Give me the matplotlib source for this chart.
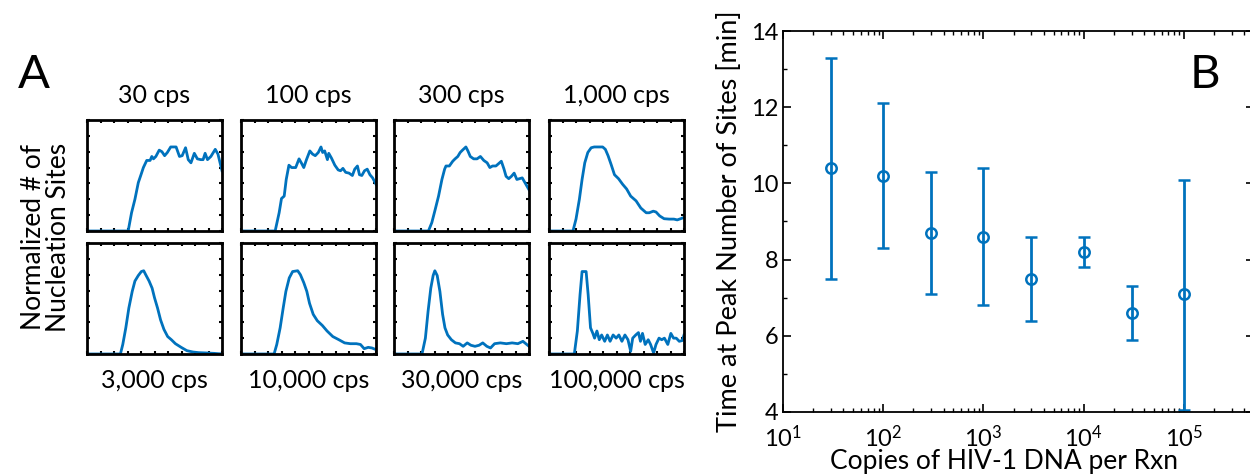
import numpy as np
import matplotlib
matplotlib.use("Agg")
import matplotlib.pyplot as plt
from matplotlib.ticker import MultipleLocator, LogLocator, NullFormatter

plt.rcParams['font.family'] = ['Lato', 'DejaVu Sans']
plt.rcParams['mathtext.fontset'] = 'custom'
plt.rcParams['mathtext.rm'] = 'Lato'

blue = '#0072BD'

# Panel A: normalized number of nucleation sites vs time (min)
titles_top = ['30 cps', '100 cps', '300 cps', '1,000 cps']
titles_bottom = ['3,000 cps', '10,000 cps', '30,000 cps', '100,000 cps']

t_30 = [0, 6.1, 6.6, 7.1, 7.6, 8.0, 8.35, 8.85, 9.35, 9.6, 9.85, 10.2, 10.7, 11.1, 11.5, 11.9, 12.4, 13.2,
        13.7, 14.1, 14.6, 15.0, 15.4, 15.9, 16.35, 16.85, 17.2, 17.5, 17.85, 18.35, 19.0, 19.4, 20.0]
v_30 = [0, 0, 0.23, 0.40, 0.61, 0.71, 0.80, 0.89, 0.89, 0.94, 0.91, 0.94, 1.02, 1.00, 0.95, 0.99, 1.06, 1.06,
        0.94, 0.95, 1.05, 0.90, 0.86, 0.98, 0.91, 0.90, 0.90, 0.98, 0.90, 0.94, 1.03, 0.97, 0.76]

t_100 = [0, 5.06, 5.65, 6.0, 6.4, 6.7, 7.1, 7.5, 8.1, 8.6, 9.0, 9.3, 9.7, 10.2, 10.6, 11.0, 11.45, 11.85, 12.1,
         12.4, 12.8, 13.0, 13.4, 13.9, 14.4, 14.75, 15.1, 15.5, 16.0, 16.5, 16.85, 17.25, 17.55, 17.9, 18.3,
         18.7, 19.1, 19.5, 20.0]
v_100 = [0, 0, 0.23, 0.41, 0.44, 0.65, 0.83, 0.80, 0.80, 0.91, 0.85, 0.80, 0.90, 1.01, 0.97, 0.95, 0.99, 1.06,
         0.99, 1.01, 0.90, 0.98, 0.92, 0.83, 0.77, 0.76, 0.79, 0.74, 0.73, 0.70, 0.78, 0.82, 0.71, 0.70, 0.76,
         0.78, 0.71, 0.67, 0.59]

t_300 = [0, 5.1, 5.6, 6.1, 6.6, 7.1, 7.5, 7.7, 8.2, 8.7, 9.05, 9.45, 9.8, 10.15, 10.65, 10.95, 11.3, 11.8,
         12.3, 12.8, 13.3, 13.8, 14.2, 14.6, 15.1, 15.5, 15.9, 16.3, 16.6, 17.0, 17.4, 17.8, 18.2, 18.6, 19.0,
         19.4, 20.0]
v_300 = [0, 0, 0.105, 0.27, 0.44, 0.65, 0.78, 0.82, 0.82, 0.88, 0.91, 0.94, 0.99, 1.02, 1.06, 1.01, 0.94, 0.91,
         0.91, 0.94, 0.89, 0.86, 0.80, 0.82, 0.82, 0.85, 0.88, 0.78, 0.69, 0.66, 0.69, 0.73, 0.65, 0.66, 0.67,
         0.61, 0.52]

t_1000 = [0, 3.55, 4.0, 4.5, 4.9, 5.3, 5.75, 6.25, 6.7, 7.95, 8.35, 8.75, 9.2, 9.7, 10.3, 10.9, 11.5, 12.1,
          12.9, 13.6, 14.4, 14.85, 15.45, 15.85, 16.4, 17.05, 17.8, 18.5, 19.0, 19.5, 20.0]
v_1000 = [0, 0, 0.15, 0.40, 0.65, 0.86, 0.99, 1.05, 1.06, 1.06, 1.03, 0.95, 0.84, 0.71, 0.66, 0.59, 0.53, 0.44,
          0.38, 0.29, 0.23, 0.23, 0.25, 0.24, 0.19, 0.155, 0.15, 0.15, 0.14, 0.155, 0.17]

t_3000 = [0, 4.95, 5.3, 5.75, 6.2, 6.7, 7.1, 7.6, 8.05, 8.4, 8.7, 9.2, 9.65, 10.0, 10.45, 10.9, 11.4, 11.95,
          12.5, 13.1, 13.95, 14.8, 15.7, 16.55, 17.7, 18.85, 20.0]
v_3000 = [0, 0, 0.12, 0.33, 0.58, 0.79, 0.92, 0.99, 1.04, 1.05, 1.00, 0.92, 0.83, 0.71, 0.58, 0.43, 0.31, 0.22,
          0.18, 0.13, 0.084, 0.042, 0.025, 0.017, 0.013, 0.008, 0.0]

t_10000 = [0, 4.9, 5.3, 5.8, 6.25, 6.65, 7.15, 7.65, 8.4, 8.8, 9.3, 9.75, 10.15, 10.7, 11.3, 12.05, 12.75,
           13.6, 14.5, 15.35, 16.2, 17.1, 17.7, 18.25, 18.85, 19.4, 20.0]
v_10000 = [0, 0, 0.12, 0.33, 0.58, 0.79, 0.96, 1.04, 1.05, 1.00, 0.90, 0.79, 0.64, 0.50, 0.42, 0.36, 0.29,
           0.22, 0.18, 0.14, 0.13, 0.13, 0.12, 0.067, 0.084, 0.076, 0.055]

t_30000 = [0, 4.15, 4.65, 5.05, 5.45, 5.8, 6.05, 6.4, 6.8, 7.2, 7.55, 7.95, 8.5, 9.1, 9.7, 10.25, 10.85, 11.4,
           12.0, 12.6, 13.15, 13.75, 14.3, 14.9, 15.75, 16.65, 17.5, 18.35, 19.1, 20.0]
v_30000 = [0, 0, 0.20, 0.54, 0.83, 0.99, 1.05, 0.99, 0.79, 0.50, 0.33, 0.24, 0.18, 0.14, 0.13, 0.097, 0.14,
           0.11, 0.097, 0.11, 0.14, 0.097, 0.076, 0.13, 0.14, 0.13, 0.14, 0.13, 0.16, 0.097]

t_100000 = [0, 3.75, 4.2, 4.6, 4.9, 5.5, 5.8, 6.15, 6.5, 6.75, 7.1, 7.45, 7.8, 8.25, 8.65, 9.05, 9.5, 9.95,
            10.35, 10.8, 11.25, 11.7, 12.1, 12.4, 12.85, 13.25, 13.55, 13.85, 14.25, 14.7, 15.05, 15.5, 15.85,
            16.3, 16.7, 17.1, 17.6, 18.05, 18.45, 18.85, 19.3, 19.75, 20.0]
v_100000 = [0, 0, 0.29, 0.75, 1.04, 1.04, 0.75, 0.33, 0.26, 0.20, 0.29, 0.18, 0.24, 0.16, 0.24, 0.16, 0.24,
            0.20, 0.24, 0.16, 0.24, 0.18, 0.034, 0.20, 0.24, 0.27, 0.16, 0.26, 0.12, 0.18, 0.12, 0.013, 0.12,
            0.20, 0.18, 0.20, 0.12, 0.26, 0.20, 0.20, 0.16, 0.17, 0.24]

curves = [(t_30, v_30), (t_100, v_100), (t_300, v_300), (t_1000, v_1000),
          (t_3000, v_3000), (t_10000, v_10000), (t_30000, v_30000), (t_100000, v_100000)]

# Panel B: time at peak number of sites vs copies
copies = [30, 100, 300, 1000, 3000, 10000, 30000, 100000]
peak_time = [10.4, 10.2, 8.7, 8.6, 7.5, 8.2, 6.6, 7.1]
err_high = [13.3, 12.1, 10.3, 10.4, 8.6, 8.6, 7.3, 10.1]
err_low = [7.5, 8.3, 7.1, 6.8, 6.4, 7.8, 5.9, 4.05]

W, H = 1250, 476
fig = plt.figure(figsize=(12.5, 4.76), dpi=100)

col_left = [87, 241, 394, 549]
row_top = [120, 243]
aw, ah = 135, 111

for i, (t, v) in enumerate(curves):
    r, c = divmod(i, 4)
    ax = fig.add_axes([col_left[c] / W, 1 - (row_top[r] + ah) / H, aw / W, ah / H])
    ax.plot(t, v, color=blue, lw=2.0)
    ax.set_xlim(0, 20)
    ax.set_ylim(0, 1.4)
    ax.xaxis.set_major_locator(MultipleLocator(2))
    ax.yaxis.set_major_locator(MultipleLocator(0.2))
    ax.tick_params(direction='in', length=2.5, width=1.5, top=True, right=True,
                   labelbottom=False, labelleft=False)
    for s in ax.spines.values():
        s.set_linewidth(2.0)
    if r == 0:
        ax.text(0.5, 1.22, titles_top[c], transform=ax.transAxes, ha='center', va='center', fontsize=18)
    else:
        ax.text(0.5, -0.24, titles_bottom[c], transform=ax.transAxes, ha='center', va='center', fontsize=18)

fig.text(18 / W, 1 - 75 / H, 'A', fontsize=34, va='center', ha='left')
fig.text(46 / W, 1 - 237 / H, 'Normalized # of\nNucleation Sites', rotation=90, fontsize=19,
         ha='center', va='center', linespacing=1.0)

axb = fig.add_axes([783 / W, 1 - 412 / H, 471 / W, 381 / H])
yerr = [np.array(peak_time) - np.array(err_low), np.array(err_high) - np.array(peak_time)]
axb.errorbar(copies, peak_time, yerr=yerr, fmt='o', color=blue, mfc='none', ms=7.5, mew=1.8,
             elinewidth=2.0, capsize=4.5, capthick=2.0)
axb.set_xscale('log')
axb.set_xlim(10, 5e5)
axb.set_ylim(4, 14)
axb.yaxis.set_major_locator(MultipleLocator(2))
axb.yaxis.set_minor_locator(MultipleLocator(1))
axb.xaxis.set_major_locator(LogLocator(base=10, numticks=10))
axb.xaxis.set_minor_locator(LogLocator(base=10, subs=np.arange(2, 10), numticks=20))
axb.xaxis.set_minor_formatter(NullFormatter())
axb.tick_params(which='both', direction='in', top=True, right=True, labelsize=17)
axb.tick_params(axis='x', pad=9)
axb.tick_params(which='major', length=6, width=1.2)
axb.tick_params(which='minor', length=3, width=1.0)
for s in axb.spines.values():
    s.set_linewidth(1.3)
axb.set_xlabel('Copies of HIV-1 DNA per Rxn', fontsize=19)
axb.xaxis.set_label_coords((1004 - 783) / 471, -(449 - 412) / 381)
axb.set_ylabel('Time at Peak Number of Sites [min]', fontsize=19.5, labelpad=6)
fig.text(1190 / W, 1 - 75 / H, 'B', fontsize=34, va='center', ha='left')

fig.savefig('out.png', dpi=100)
